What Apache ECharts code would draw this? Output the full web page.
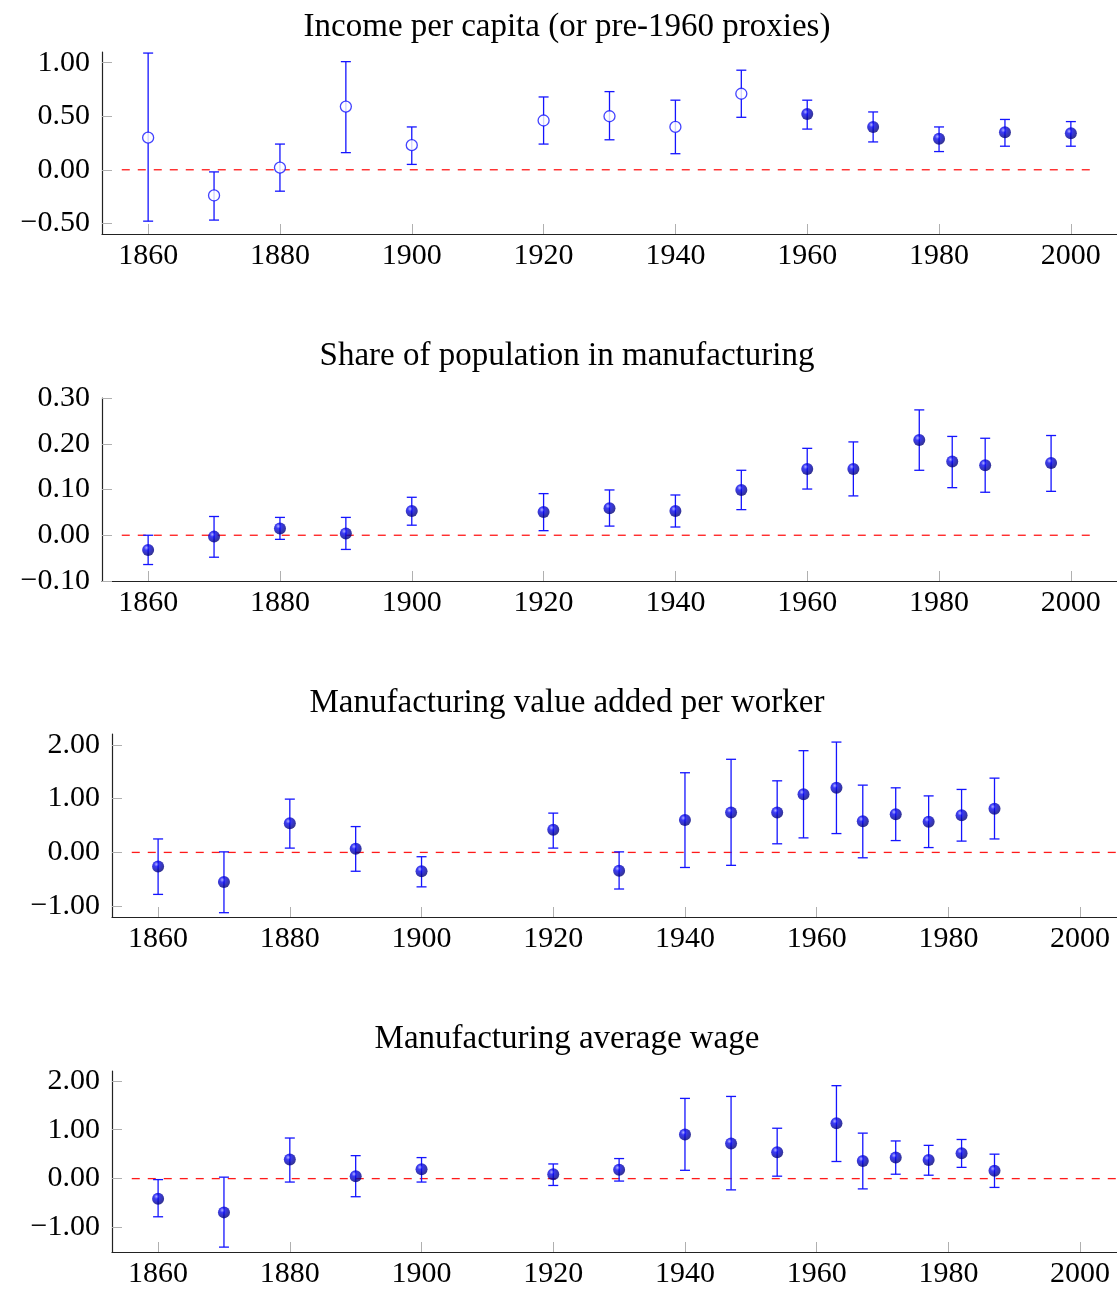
<!DOCTYPE html>
<html>
<head>
<meta charset="utf-8">
<script src="https://cdn.jsdelivr.net/npm/echarts@6/dist/echarts.min.js"></script>
<style>
  html, body { margin: 0; padding: 0; background: #fff; }
  #chart { width: 1117px; height: 1289px; }
</style>
</head>
<body>
<div id="chart"></div>
<script>
// Panel 1: Income per capita (or pre-1960 proxies)
const incYears = [1860, 1870, 1880, 1890, 1900, 1920, 1930, 1940, 1950, 1960, 1970, 1980, 1990, 2000];
const incEst   = [0.30, -0.24, 0.02, 0.59, 0.23, 0.46, 0.50, 0.40, 0.71, 0.52, 0.40, 0.29, 0.35, 0.34];
const incLo    = [-0.48, -0.47, -0.20, 0.16, 0.05, 0.24, 0.28, 0.15, 0.49, 0.38, 0.26, 0.17, 0.22, 0.22];
const incHi    = [1.09, -0.02, 0.24, 1.01, 0.40, 0.68, 0.73, 0.65, 0.93, 0.65, 0.54, 0.40, 0.47, 0.45];
const incProxy = [true, true, true, true, true, true, true, true, true, false, false, false, false, false];

// Panel 2: Share of population in manufacturing
const shrYears = [1860, 1870, 1880, 1890, 1900, 1920, 1930, 1940, 1950, 1960, 1967, 1977, 1982, 1987, 1997];
const shrEst   = [-0.032, -0.003, 0.015, 0.004, 0.053, 0.051, 0.059, 0.053, 0.099, 0.145, 0.145, 0.208, 0.161, 0.153, 0.158];
const shrLo    = [-0.064, -0.048, -0.009, -0.031, 0.022, 0.010, 0.020, 0.018, 0.056, 0.101, 0.086, 0.142, 0.104, 0.094, 0.096];
const shrHi    = [0.000, 0.041, 0.039, 0.039, 0.083, 0.091, 0.099, 0.088, 0.142, 0.190, 0.204, 0.274, 0.216, 0.212, 0.218];

// Panel 3: Manufacturing value added per worker
const vaYears = [1860, 1870, 1880, 1890, 1900, 1920, 1930, 1940, 1947, 1954, 1958, 1963, 1967, 1972, 1977, 1982, 1987];
const vaEst   = [-0.26, -0.55, 0.54, 0.07, -0.35, 0.42, -0.34, 0.60, 0.74, 0.74, 1.08, 1.20, 0.58, 0.71, 0.57, 0.69, 0.81];
const vaLo    = [-0.78, -1.12, 0.08, -0.35, -0.64, 0.08, -0.68, -0.28, -0.24, 0.16, 0.27, 0.35, -0.10, 0.22, 0.09, 0.21, 0.25];
const vaHi    = [0.25, 0.01, 0.99, 0.48, -0.08, 0.73, 0.01, 1.48, 1.73, 1.33, 1.89, 2.05, 1.25, 1.20, 1.05, 1.17, 1.38];

// Panel 4: Manufacturing average wage
const wgYears = [1860, 1870, 1880, 1890, 1900, 1920, 1930, 1940, 1947, 1954, 1963, 1967, 1972, 1977, 1982, 1987];
const wgEst   = [-0.41, -0.69, 0.39, 0.05, 0.19, 0.09, 0.18, 0.90, 0.72, 0.54, 1.13, 0.36, 0.43, 0.38, 0.52, 0.16];
const wgLo    = [-0.78, -1.40, -0.07, -0.37, -0.07, -0.14, -0.05, 0.17, -0.23, 0.05, 0.35, -0.21, 0.09, 0.07, 0.23, -0.18];
const wgHi    = [-0.02, 0.03, 0.83, 0.47, 0.43, 0.30, 0.41, 1.64, 1.68, 1.03, 1.90, 0.93, 0.77, 0.68, 0.80, 0.50];

// ticks
const yearTicks = [1860, 1880, 1900, 1920, 1940, 1960, 1980, 2000];
const incTicks = [-0.5, 0, 0.5, 1.0];
const shrTicks = [-0.1, 0, 0.1, 0.2, 0.3];
const vaTicks  = [-1, 0, 1, 2];
const wgTicks  = [-1, 0, 1, 2];

const titles = [
  'Income per capita (or pre-1960 proxies)',
  'Share of population in manufacturing',
  'Manufacturing value added per worker',
  'Manufacturing average wage'
];

const FONT = '"Liberation Serif", "DejaVu Serif", serif';
const BLUE = '#1414ff';

const panels = [
  { top: 52,   height: 182, left: 102, xMax: 2007,   yMin: -0.6, yMax: 1.1, yTicks: incTicks, zeroEnd: 2003, titleY: 27 },
  { top: 398,  height: 183, left: 102, xMax: 2007,   yMin: -0.1, yMax: 0.3, yTicks: shrTicks, zeroEnd: 2003, titleY: 356 },
  { top: 734,  height: 183, left: 112, xMax: 2005.6, yMin: -1.2, yMax: 2.2, yTicks: vaTicks,  zeroEnd: 2006, titleY: 703 },
  { top: 1071, height: 182, left: 112, xMax: 2005.6, yMin: -1.5, yMax: 2.2, yTicks: wgTicks,  zeroEnd: 2006, titleY: 1039 }
];

const fmtY = v => v.toFixed(2).replace('-', '\u2212');

const ball = new echarts.graphic.RadialGradient(0.36, 0.32, 0.72, [
  { offset: 0, color: '#9c9cff' },
  { offset: 0.28, color: '#0a0af0' },
  { offset: 1, color: '#000070' }
]);

function errorBars(i, years, lo, hi) {
  return {
    type: 'custom', xAxisIndex: i, yAxisIndex: i, silent: true, z: 2,
    data: years.map((y, k) => [y, lo[k], hi[k]]),
    encode: { x: 0, y: [1, 2] },
    renderItem: (params, api) => {
      const x = api.value(0);
      const a = api.coord([x, api.value(1)]);
      const b = api.coord([x, api.value(2)]);
      const style = { stroke: BLUE, lineWidth: 1.3 };
      return {
        type: 'group',
        children: [
          { type: 'line', shape: { x1: a[0], y1: a[1], x2: b[0], y2: b[1] }, style },
          { type: 'line', shape: { x1: a[0] - 5, y1: a[1], x2: a[0] + 5, y2: a[1] }, style },
          { type: 'line', shape: { x1: b[0] - 5, y1: b[1], x2: b[0] + 5, y2: b[1] }, style }
        ]
      };
    }
  };
}

function points(i, years, est, mask, filled) {
  const data = years.map((y, k) => [y, est[k]]).filter((d, k) => !mask || mask[k] !== filled);
  return {
    type: 'scatter', xAxisIndex: i, yAxisIndex: i, z: 3, silent: true,
    data,
    symbol: 'circle',
    symbolSize: filled ? 12 : 11,
    itemStyle: filled
      ? { color: ball }
      : { color: '#fff', borderColor: BLUE, borderWidth: 1.3 }
  };
}

function zeroLine(i, end) {
  return {
    type: 'line', xAxisIndex: i, yAxisIndex: i, z: 1, silent: true,
    data: [[1856, 0], [end, 0]],
    symbol: 'none',
    lineStyle: { color: '#ff1a1a', width: 1.3, type: [8, 8] }
  };
}

const chart = echarts.init(document.getElementById('chart'));

chart.setOption({
  animation: false,
  backgroundColor: '#fff',
  graphic: panels.map((p, i) => ({
    type: 'text', x: 567, y: p.titleY,
    style: { text: titles[i], font: '33px ' + FONT, fill: '#000', align: 'center', verticalAlign: 'middle' }
  })),
  grid: panels.map(p => ({ left: p.left, right: 0, top: p.top, height: p.height, containLabel: false })),
  xAxis: panels.map((p, i) => ({
    type: 'value', gridIndex: i, min: 1853, max: p.xMax,
    axisLine: { show: true, onZero: false, lineStyle: { color: '#222', width: 1.2 } },
    axisTick: { show: true, inside: true, length: 10, customValues: yearTicks, lineStyle: { color: '#b0b0b0' } },
    axisLabel: { customValues: yearTicks, formatter: v => String(v), color: '#000', fontFamily: FONT, fontSize: 30, margin: 7 },
    splitLine: { show: false }
  })),
  yAxis: panels.map((p, i) => ({
    type: 'value', gridIndex: i, min: p.yMin, max: p.yMax,
    axisLine: { show: true, onZero: false, lineStyle: { color: '#222', width: 1.2 } },
    axisTick: { show: true, inside: true, length: 10, customValues: p.yTicks, lineStyle: { color: '#b0b0b0' } },
    axisLabel: { customValues: p.yTicks, formatter: fmtY, color: '#000', fontFamily: FONT, fontSize: 30, margin: 12 },
    splitLine: { show: false }
  })),
  series: [
    zeroLine(0, panels[0].zeroEnd),
    errorBars(0, incYears, incLo, incHi),
    points(0, incYears, incEst, incProxy, false),
    points(0, incYears, incEst, incProxy, true),

    zeroLine(1, panels[1].zeroEnd),
    errorBars(1, shrYears, shrLo, shrHi),
    points(1, shrYears, shrEst, null, true),

    zeroLine(2, panels[2].zeroEnd),
    errorBars(2, vaYears, vaLo, vaHi),
    points(2, vaYears, vaEst, null, true),

    zeroLine(3, panels[3].zeroEnd),
    errorBars(3, wgYears, wgLo, wgHi),
    points(3, wgYears, wgEst, null, true)
  ]
});
</script>
</body>
</html>
